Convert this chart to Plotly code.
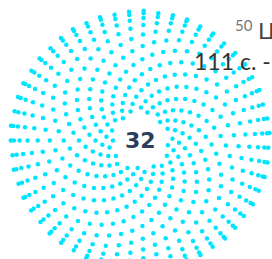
import numpy as np
import plotly.graph_objects as go

# pattern parameters
center_value = ["32"]
label_sup = ["50"]
label_top = ["Ц"]
label_mid = ["111 с. - 222 с."]
n_dots = [525]
spokes = [55]
turn_step = [21]
phi_start_deg = [12.0]
phi_end_deg = [88.0]
radius_px = [130]

W, H = 272, 259
cx, cy = 140, 140.5

N = n_dots[0]
alpha = 2 * np.pi * turn_step[0] / spokes[0]
i = np.arange(N)
phi = np.radians(phi_start_deg[0] + (phi_end_deg[0] - phi_start_deg[0]) * i / (N - 1))
theta = np.pi + i * alpha
r = radius_px[0] * np.sin(phi)
xs = cx + r * np.cos(theta)
ys = cy + r * np.sin(theta)

fig = go.Figure()
fig.add_trace(go.Scatter(x=xs, y=ys, mode="markers",
                         marker=dict(size=4.5, color="#00e5ff", line=dict(width=0)),
                         hoverinfo="skip"))
fig.add_annotation(x=cx, y=cy, text="<b>" + center_value[0] + "</b>", showarrow=False,
                   font=dict(family="DejaVu Sans", size=22, color="#2c3e5c"))
fig.add_annotation(x=233, y=25, text=label_sup[0], showarrow=False, xanchor="left",
                   font=dict(family="Lato", size=15, color="#777"))
fig.add_annotation(x=256, y=31, text=label_top[0], showarrow=False, xanchor="left",
                   font=dict(family="DejaVu Sans", size=22, color="#444"))
fig.add_annotation(x=192, y=61, text=label_mid[0], showarrow=False, xanchor="left",
                   font=dict(family="Lato", size=23, color="#333"))
fig.update_layout(width=W, height=H, margin=dict(l=0, r=0, t=0, b=0),
                  paper_bgcolor="white", plot_bgcolor="white", showlegend=False,
                  xaxis=dict(range=[0, W], visible=False, fixedrange=True),
                  yaxis=dict(range=[H, 0], visible=False, fixedrange=True))
fig.write_html("out.html", config={"displayModeBar": False},
               post_script="document.body.style.margin='0';"
                           "document.body.style.overflow='hidden';"
                           "document.documentElement.style.overflow='hidden';")
